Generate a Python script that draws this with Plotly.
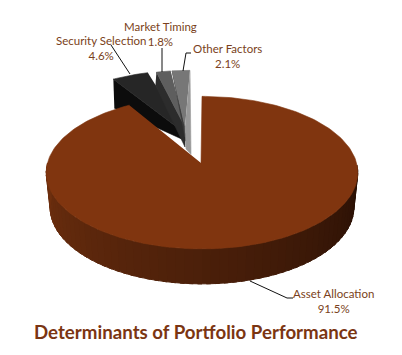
import numpy as np
import plotly.graph_objects as go

# Data
categories = ["Asset Allocation", "Security Selection", "Market Timing", "Other Factors"]
shares = [91.5, 4.6, 1.8, 2.1]
share_labels = ["91.5%", "4.6%", "1.8%", "2.1%"]
chart_title = "Determinants of Portfolio Performance"

# Styles
top_colors = ["#80350F", "#262626", "#5E5E5E", "#777777"]
wall_colors = [None, "#0C0C0C", "#2C2C2C", "#3A3A3A"]
edge_color = "#989898"
text_color = "#7A3F20"
title_color = "#7B3512"

# Projection of the tilted pie on the page (layout constants)
CX, CY, RX, RY, PERSP = 202, 165, 155, 75.5, 0.1
APEX = (201, 163)
DEPTH = 35
FLOOR_SCALE = 0.975
# exploded slices: rim offset, apex position, wall drop at rim and at apex, wall shift at rim
BURST = {
    1: dict(rim=(-16, -26), apex=(186, 134), rim_drop=29, apex_drop=7, shift=1, gap=(0.0, 1.6)),
    2: dict(rim=(-12, -26), apex=(185, 127), rim_drop=13, apex_drop=20, shift=-1, gap=(0.3, 0.3)),
    3: dict(rim=(-12, -26), apex=(185, 127), rim_drop=0, apex_drop=10, shift=0, gap=(0.3, 0.0)),
}


def rim(deg, off=(0, 0), scale=1.0):
    a = np.radians(np.asarray(deg, dtype=float))
    w = 1 + PERSP * np.cos(a)
    return CX + off[0] + scale * RX * np.sin(a) / w, CY + off[1] - RY * np.cos(a) / w


def poly(xs, ys, color, name, lw=0.6):
    return go.Scatter(x=list(xs), y=list(ys), mode="lines", fill="toself", fillcolor=color,
                      line=dict(width=lw, color=color), hoverinfo="skip", name=name, showlegend=False)


edges = np.cumsum([0] + shares) * 3.6
fig = go.Figure()

# Exploded small slices drawn behind the main slice
for i in range(1, len(shares)):
    b = BURST[i]
    arc = np.linspace(edges[i] + b["gap"][0], edges[i + 1] - b["gap"][1], 12)
    x, y = rim(arc, b["rim"])
    ax, ay = b["apex"]
    wx = [x[0], ax, ax, x[0] + b["shift"]]
    wy = [y[0], ay, ay + b["apex_drop"], y[0] + b["rim_drop"]]
    fig.add_trace(poly(wx, wy, wall_colors[i], categories[i] + " wall"))
    fig.add_trace(poly(np.r_[ax, x], np.r_[ay, y], top_colors[i], categories[i]))
    if i == len(shares) - 1:
        # lit end face on the closing edge of the last slice
        fig.add_trace(poly([x[-1], x[-1] + 1, ax + 1, ax], [y[-1], y[-1] + 84, ay + 22, ay],
                           edge_color, categories[i] + " edge"))

# Main slice: outer wall with left-to-right shading
a0, a1 = edges[0], edges[1]
wall_angles = np.linspace(90, 270, 61)
light, dark = np.array([0x70, 0x30, 0x0F]), np.array([0x28, 0x10, 0x05])
for j in range(len(wall_angles) - 1):
    seg = np.linspace(wall_angles[j], wall_angles[j + 1] + 1.5, 4)
    x, y = rim(seg)
    xf, yf = rim(seg, scale=FLOOR_SCALE)
    f = (wall_angles[j] - 90) / 180
    c = dark * (1 - f) + light * f
    color = "rgb(%d,%d,%d)" % tuple(c)
    fig.add_trace(poly(np.r_[x, xf[::-1]], np.r_[y, yf[::-1] + DEPTH], color, categories[0] + " wall", lw=1))

# Main slice: top face
arc = np.linspace(a0, a1, 240)
x, y = rim(arc)
fig.add_trace(poly(np.r_[APEX[0], x], np.r_[APEX[1], y], top_colors[0], categories[0]))

# Leader lines and labels
leaders = {
    "Security Selection": ([111, 130], [45, 74]),
    "Market Timing": ([162, 162], [48, 72]),
    "Other Factors": ([191, 186, 183], [53, 53, 71]),
    "Asset Allocation": ([250, 287, 293], [281, 298, 298]),
}
for name, (lx, ly) in leaders.items():
    fig.add_trace(go.Scatter(x=lx, y=ly, mode="lines", line=dict(color="#111111", width=1),
                             hoverinfo="skip", showlegend=False, name=name + " leader"))

label_pos = {
    "Asset Allocation": (333, 301),
    "Security Selection": (101, 48),
    "Market Timing": (160, 34),
    "Other Factors": (227, 56),
}
annotations = []
for name, pct in zip(categories, share_labels):
    lx, ly = label_pos[name]
    annotations.append(dict(x=lx, y=ly, xref="x", yref="y", text=f"{name}<br>{pct}", showarrow=False,
                            align="center", font=dict(family="Lato", size=11.5, color=text_color)))
annotations.append(dict(x=196, y=332, xref="x", yref="y", text=f"<b>{chart_title}</b>", showarrow=False,
                        font=dict(family="Lato", size=18.7, color=title_color)))

fig.update_layout(
    width=402, height=355, margin=dict(l=0, r=0, t=0, b=0),
    paper_bgcolor="white", plot_bgcolor="white", showlegend=False,
    xaxis=dict(range=[0, 402], visible=False, fixedrange=True),
    yaxis=dict(range=[355, 0], visible=False, fixedrange=True),
    annotations=annotations,
)
fig.write_html("out.html", config=dict(displayModeBar=False),
               post_script="document.body.style.margin='0';document.body.style.overflow='hidden';")
